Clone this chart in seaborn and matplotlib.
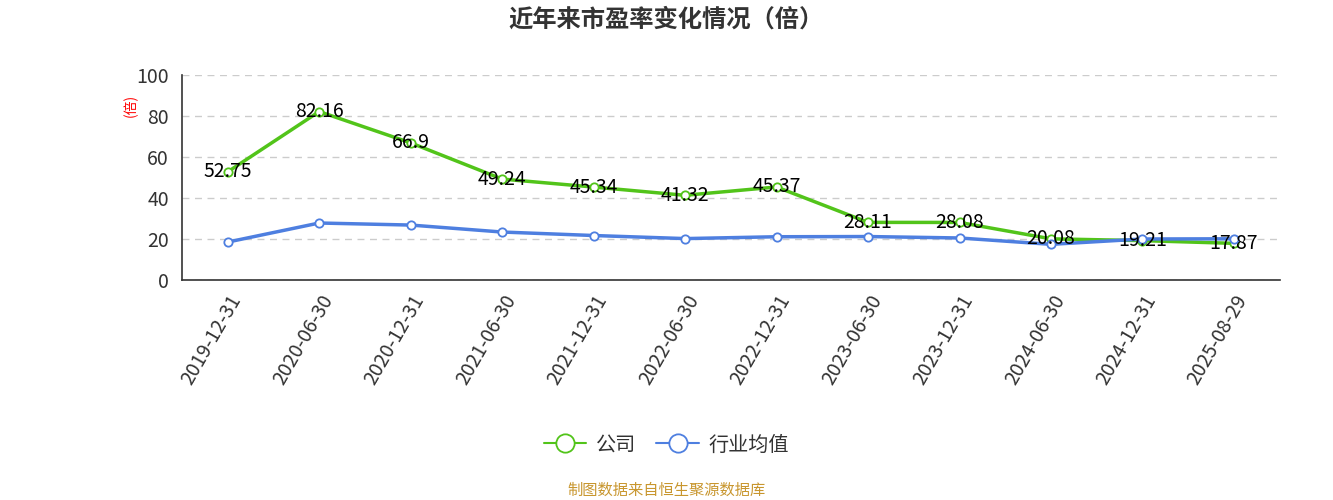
import matplotlib.pyplot as plt
import seaborn as sns
import pandas as pd

sns.set_theme(style="white")
plt.rcParams['font.family'] = ['Noto Sans CJK SC', 'DejaVu Sans']

# 数据
dates = ["2019-12-31", "2020-06-30", "2020-12-31", "2021-06-30", "2021-12-31", "2022-06-30",
         "2022-12-31", "2023-06-30", "2023-12-31", "2024-06-30", "2024-12-31", "2025-08-29"]
company_pe = [52.75, 82.16, 66.9, 49.24, 45.34, 41.32, 45.37, 28.11, 28.08, 20.08, 19.21, 17.87]
industry_pe = [18.5, 27.8, 26.8, 23.4, 21.7, 20.2, 21.1, 21.2, 20.5, 17.4, 20.0, 20.1]

green = "#52c41a"
blue = "#4e7fe0"

df = pd.DataFrame({"idx": range(len(dates)), "公司": company_pe, "行业均值": industry_pe})

fig = plt.figure(figsize=(13.33, 5), dpi=100)
ax = fig.add_axes([0.1365, 0.44, 0.8235, 0.41])

sns.lineplot(data=df, x="idx", y="公司", ax=ax, color=green, linewidth=2.5, marker="o",
             markersize=6, markerfacecolor="white", markeredgecolor=green, markeredgewidth=1.3,
             label="公司")
sns.lineplot(data=df, x="idx", y="行业均值", ax=ax, color=blue, linewidth=2.5, marker="o",
             markersize=6, markerfacecolor="white", markeredgecolor=blue, markeredgewidth=1.3,
             label="行业均值")

for i, v in enumerate(company_pe):
    ax.text(i, v, f"{v:g}", ha="center", va="center", fontsize=14, color="black")

ax.set_xlim(-0.5, len(dates) - 0.5)
ax.set_ylim(0, 100)
ax.set_yticks(range(0, 101, 20))
ax.set_xticks([i - 0.5 for i in range(len(dates) + 1)], minor=False)
ax.set_xticklabels([])
ax.set_xticks(range(len(dates)), minor=True)
ax.set_xticklabels(dates, minor=True, rotation=60, ha="right", rotation_mode="anchor",
                   fontsize=14, color="#333333")
ax.tick_params(axis="x", which="minor", length=0, pad=8)
ax.tick_params(axis="x", which="major", length=6, color="#333333", direction="out")
ax.tick_params(axis="y", length=6, color="#333333", labelsize=14, labelcolor="#333333")
ax.set_xlabel("")
ax.set_ylabel("")

ax.yaxis.grid(True, linestyle=(0, (5, 4)), color="#cccccc", linewidth=1)
for s in ["top", "right"]:
    ax.spines[s].set_visible(False)
for s in ["left", "bottom"]:
    ax.spines[s].set_color("#333333")
    ax.spines[s].set_linewidth(1.2)

fig.text(0.098, 0.79, "(倍)", color="red", fontsize=10, rotation=90, ha="center", va="center")
fig.text(0.5, 0.96, "近年来市盈率变化情况（倍）", ha="center", va="center", fontsize=17.5,
         fontweight="bold", color="#333333")

ax.legend(loc="center", bbox_to_anchor=(0.5, 0.11), bbox_transform=fig.transFigure, ncol=2,
          frameon=False, fontsize=14.5, markerscale=2.2, handlelength=2.1, columnspacing=1.0,
          handletextpad=0.5, labelcolor="#333333")
for h in ax.get_legend().legend_handles:
    h.set_linewidth(1.5)

fig.text(0.5, 0.02, "制图数据来自恒生聚源数据库", ha="center", va="center", fontsize=11,
         color="#c8962e")

fig.savefig("out.png", dpi=100)
